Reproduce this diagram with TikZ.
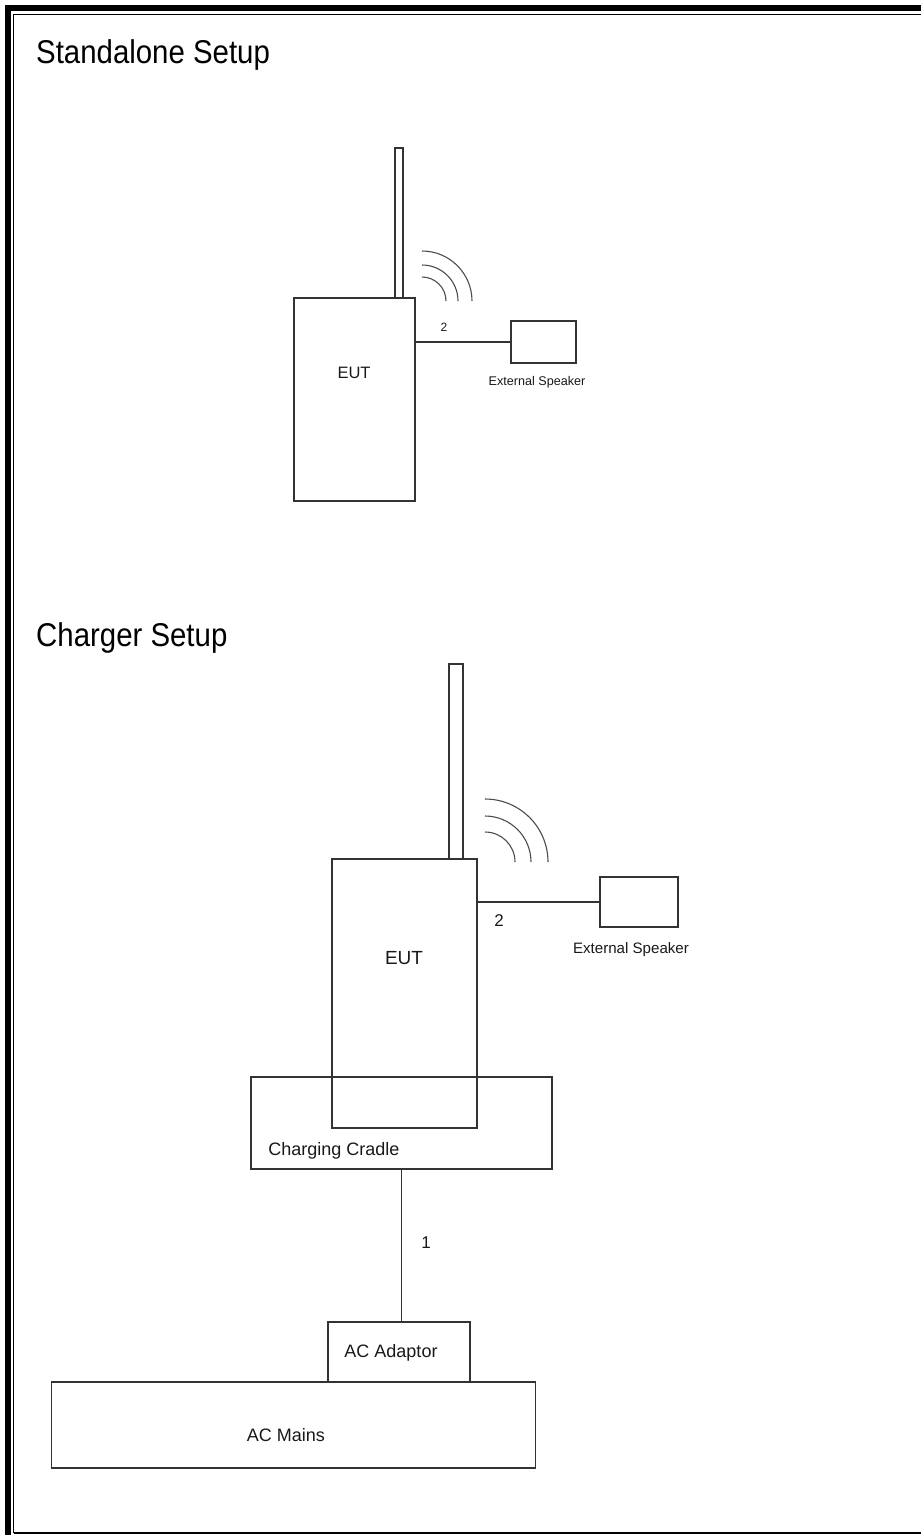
\documentclass[tikz,border=0pt]{standalone}
\usepackage{graphicx}
\usepackage{fontspec}
\setmainfont{Liberation Sans}
\begin{document}
\begin{tikzpicture}
[x=1pt,y=-1pt,
  boxdecorate/.style={shape=rectangle,draw=black!80,line width=1.1pt,inner sep=0pt},
  titledecorate/.style={anchor=base west,inner sep=0pt,font=\fontsize{29.4}{32}\selectfont},
  textdecorate/.style={inner sep=0pt,text=black!90},
  linedecorate/.style={draw=black!80,line width=1.1pt},
  wavedecorate/.style={draw=black!70,line width=1.1pt}]
\useasboundingbox (0,0) rectangle (921,1535);
% frame
\draw[line width=6pt] (8,1535) -- (8,8) -- (921,8);
\draw[line width=1.5pt] (13.5,1533) -- (13.5,14.5) -- (921,14.5);
\draw[line width=2pt] (13.5,1533) -- (921,1533);
% standalone setup
\node (title1) at (36,63) [titledecorate] {\scalebox{1}[1.12]{Standalone Setup}};
\node (ant1) at (399,223) [boxdecorate,minimum width=8pt,minimum height=150pt] {};
\node (eut1) at (354.5,399.5) [boxdecorate,minimum width=121pt,minimum height=203pt] {};
\node (eut1txt) at (354,373) [textdecorate,font=\fontsize{16.5}{18}\selectfont] {EUT};
\node (spk1) at (543.5,342) [boxdecorate,minimum width=65pt,minimum height=42pt] {};
\node (spk1txt) at (537,382) [textdecorate,font=\fontsize{12.6}{14}\selectfont] {External Speaker};
\node (lbl2a) at (444,327) [textdecorate,font=\fontsize{12}{14}\selectfont] {2};
\coordinate (wave1) at (422,301);
\foreach \r in {24,36,50}
  \draw[wavedecorate] ([yshift=\r pt]wave1) arc[start angle=90,end angle=0,radius=\r pt];
% charger setup
\node (title2) at (36,646) [titledecorate] {\scalebox{1}[1.12]{Charger Setup}};
\node (ant2) at (456,761.5) [boxdecorate,minimum width=14pt,minimum height=195pt] {};
\node (eut2) at (404.5,993.5) [boxdecorate,minimum width=145pt,minimum height=269pt] {};
\node (eut2txt) at (404,958) [textdecorate,font=\fontsize{19}{21}\selectfont] {EUT};
\node (spk2) at (639,902) [boxdecorate,minimum width=78pt,minimum height=50pt] {};
\node (spk2txt) at (631,950) [textdecorate,font=\fontsize{15.1}{17}\selectfont] {External Speaker};
\node (lbl2b) at (499,921) [textdecorate,font=\fontsize{17}{19}\selectfont] {2};
\coordinate (wave2) at (485,862);
\foreach \r in {30,46,63}
  \draw[wavedecorate] ([yshift=\r pt]wave2) arc[start angle=90,end angle=0,radius=\r pt];
\node (cradle) at (401.5,1123) [boxdecorate,minimum width=301pt,minimum height=92pt] {};
\node (cradletxt) at (334,1151) [textdecorate,font=\fontsize{18}{20}\selectfont] {Charging Cradle};
\node (lbl1) at (426,1243) [textdecorate,font=\fontsize{17}{19}\selectfont] {1};
\node (adaptor) at (399,1352) [boxdecorate,minimum width=142pt,minimum height=60pt] {};
\node (adaptortxt) at (391,1353) [textdecorate,font=\fontsize{18}{20}\selectfont] {AC Adaptor};
\node (mains) at (293.5,1425) [boxdecorate,minimum width=484pt,minimum height=86pt] {};
\node (mainstxt) at (286,1435) [textdecorate,font=\fontsize{18}{20}\selectfont] {AC Mains};
% connections
\path
(eut1.east |- spk1.west) edge[linedecorate] (spk1.west)
(eut2.east |- spk2.west) edge[linedecorate] (spk2.west)
(cradle.south) edge[linedecorate] (cradle.south |- adaptor.north);
\end{tikzpicture}
\end{document}
